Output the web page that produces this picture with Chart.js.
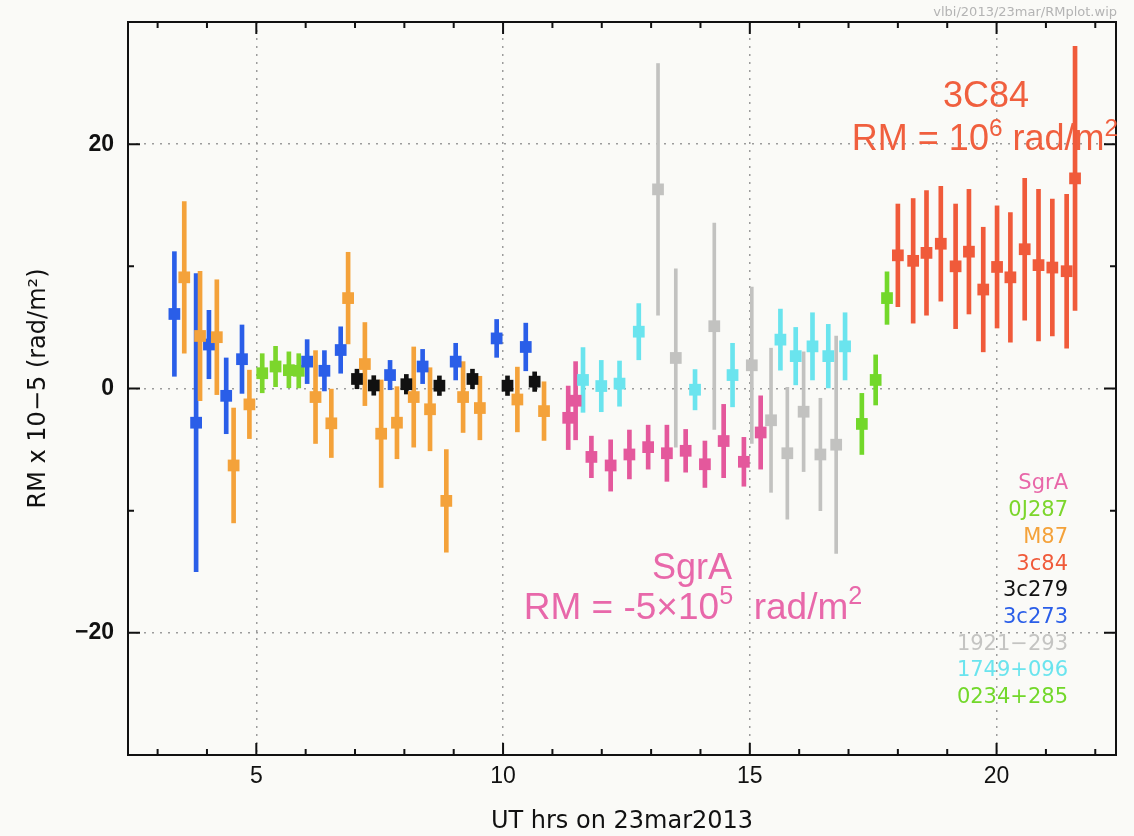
<!DOCTYPE html>
<html><head><meta charset="utf-8">
<script src="https://cdn.jsdelivr.net/npm/chart.js@4/dist/chart.umd.min.js"></script>
<style>html,body{margin:0;padding:0;background:#fafaf7;overflow:hidden}</style>
</head><body>
<canvas id="c" width="1134" height="836"></canvas>
<script>
// ---- tick values ----
const X_TICKS = [3,4,5,6,7,8,9,10,11,12,13,14,15,16,17,18,19,20,21,22];
const X_LABELS = [5,10,15,20];
const Y_LABELS = [-20,0,20];

// ---- series data (hour, RM x 1e-5, error) ----
const sgraX   = [11.32,11.47,11.79,12.18,12.56,12.94,13.32,13.70,14.09,14.47,14.88,15.22];
const sgraY   = [-2.4,-1.0,-5.6,-6.3,-5.4,-4.8,-5.3,-5.1,-6.2,-4.3,-6.0,-3.6];
const sgraE   = [2.6,3.2,1.7,2.1,2.0,1.8,2.3,1.75,1.9,3.0,2.0,3.0];

const oj287X  = [5.12,5.39,5.66,5.86];
const oj287Y  = [1.25,1.8,1.5,1.45];
const oj287E  = [1.6,1.65,1.5,1.4];

const m87X    = [3.54,3.86,4.20,4.54,4.86,6.20,6.52,6.86,7.20,7.53,7.85,8.19,8.52,8.85,9.19,9.53,10.29,10.83];
const m87Y    = [9.1,4.3,4.2,-6.3,-1.3,-0.7,-2.85,7.4,2.0,-3.7,-2.8,-0.7,-1.7,-9.2,-0.7,-1.6,-0.9,-1.85];
const m87E    = [6.2,5.3,4.7,4.7,2.8,3.8,2.8,3.75,3.4,4.4,2.95,4.1,3.4,4.2,2.9,2.6,2.65,2.4];

const c84X    = [18.00,18.31,18.58,18.87,19.17,19.44,19.73,20.01,20.28,20.57,20.85,21.13,21.42,21.59];
const c84Y    = [10.9,10.45,11.1,11.85,10.0,11.2,8.1,9.95,9.1,11.4,10.1,9.9,9.6,17.2];
const c84E    = [4.2,5.1,5.1,4.7,5.1,5.1,5.1,5.0,5.3,5.8,6.2,5.6,6.3,10.8];

const c279X   = [7.04,7.38,8.04,8.71,9.38,10.09,10.64];
const c279Y   = [0.78,0.25,0.35,0.23,0.78,0.23,0.56];
const c279E   = [0.8,0.8,0.8,0.8,0.8,0.8,0.8];

const c273X   = [3.34,3.78,4.04,4.39,4.71,6.03,6.38,6.71,7.71,8.37,9.04,9.87,10.46];
const c273Y   = [6.1,-2.8,3.6,-0.6,2.4,2.2,1.45,3.15,1.1,1.8,2.2,4.1,3.4];
const c273E   = [5.1,12.2,2.8,3.1,2.8,1.8,1.65,1.9,1.2,1.4,1.5,1.55,1.95];

const j1921X  = [13.14,13.50,14.28,15.04,15.43,15.76,16.09,16.43,16.75];
const j1921Y  = [16.3,2.5,5.1,1.9,-2.6,-5.3,-1.9,-5.4,-4.6];
const j1921E  = [10.3,7.3,8.45,6.4,5.9,5.4,4.9,4.6,8.9];

const j1749X  = [11.62,11.99,12.36,12.75,13.89,14.65,15.62,15.93,16.27,16.59,16.93];
const j1749Y  = [0.7,0.2,0.4,4.65,-0.1,1.1,4.0,2.65,3.45,2.65,3.45];
const j1749E  = [2.65,2.1,1.85,2.3,1.65,2.6,2.5,2.35,2.75,2.6,2.75];

const j0234X  = [17.27,17.55,17.78];
const j0234Y  = [-2.9,0.7,7.4];
const j0234E  = [2.5,2.05,2.15];

const LEGEND_NAMES = ['SgrA','0J287','M87','3c84','3c279','3c273','1921\u2212293','1749+096','0234+285'];

// ---- styles ----
const COL = {
  sgra:'#e4589c', oj287:'#7cd62c', m87:'#f4a23a', c84:'#f05a3a', c279:'#111111',
  c273:'#2a5ee8', j1921:'#c2c2c0', j1749:'#6ae4ee', j0234:'#72d82a'
};
const LEGEND_COLS = ['#e866a8','#7cd62c','#f4a23a','#f05a3a','#111111','#2a5ee8','#c4c4c2','#6ae4ee','#72d82a'];

const datasets = [];
function addSeries(name, xs, ys, es, color, barW){
  datasets.push({type:'bar', label:name+' err', order:2, grouped:false,
    data: xs.map((x,i)=>({x:x, y:[ys[i]-es[i], ys[i]+es[i]]})),
    backgroundColor: color, borderWidth:0, barThickness: barW});
  datasets.push({type:'scatter', label:name, order:1,
    data: xs.map((x,i)=>({x:x, y:ys[i]})),
    pointStyle:'rect', pointRadius:8.3, pointHoverRadius:8.3,
    pointBackgroundColor:color, pointBorderColor:color, pointBorderWidth:0});
}
addSeries('1921-293', j1921X, j1921Y, j1921E, COL.j1921, 3);
addSeries('1749+096', j1749X, j1749Y, j1749E, COL.j1749, 4);
addSeries('SgrA', sgraX, sgraY, sgraE, COL.sgra, 4);
addSeries('M87', m87X, m87Y, m87E, COL.m87, 4);
addSeries('3c273', c273X, c273Y, c273E, COL.c273, 4);
addSeries('3c279', c279X, c279Y, c279E, COL.c279, 4);
addSeries('OJ287', oj287X, oj287Y, oj287E, COL.oj287, 4);
addSeries('0234+285', j0234X, j0234Y, j0234E, COL.j0234, 4);
addSeries('3c84', c84X, c84Y, c84E, COL.c84, 4);

function drawRich(ctx, parts, cx, baseline, size, color, family){
  let total = 0;
  parts.forEach(p=>{ ctx.font = (p.sup? size*0.68 : size)+'px '+family; p.w = ctx.measureText(p.t).width; total += p.w; });
  let x = cx - total/2;
  ctx.fillStyle = color; ctx.textAlign='left'; ctx.textBaseline='alphabetic';
  parts.forEach(p=>{ ctx.font = (p.sup? size*0.68 : size)+'px '+family; ctx.fillText(p.t, x, p.sup? baseline - size*0.40 : baseline); x += p.w; });
}

const bgPlugin = { id:'bg', beforeDraw(chart){ const c=chart.ctx; c.save(); c.fillStyle='#fafaf7'; c.fillRect(0,0,chart.width,chart.height); c.restore(); } };

const framePlugin = { id:'frame', afterDraw(chart){
  const ctx = chart.ctx, a = chart.chartArea, xs = chart.scales.x, ys = chart.scales.y;
  ctx.save();
  ctx.strokeStyle = '#111'; ctx.lineWidth = 2;
  ctx.strokeRect(a.left, a.top, a.right-a.left, a.bottom-a.top);
  ctx.beginPath();
  X_TICKS.forEach(v=>{ const px = xs.getPixelForValue(v); const L = (v%5===0)?12:6;
    ctx.moveTo(px, a.bottom); ctx.lineTo(px, a.bottom-L); ctx.moveTo(px, a.top); ctx.lineTo(px, a.top+L); });
  [-20,-10,0,10,20].forEach(v=>{ const py = ys.getPixelForValue(v); const L = (v%20===0)?12:6;
    ctx.moveTo(a.left, py); ctx.lineTo(a.left+L, py); ctx.moveTo(a.right, py); ctx.lineTo(a.right-L, py); });
  ctx.stroke();

  // header path
  ctx.font = '13px "DejaVu Sans"'; ctx.fillStyle = '#b4b4b4'; ctx.textAlign='right'; ctx.textBaseline='alphabetic';
  ctx.fillText('vlbi/2013/23mar/RMplot.wip', 1117, 16);

  // legend
  ctx.font = '21px "DejaVu Sans"'; ctx.textAlign='right'; ctx.textBaseline='middle';
  LEGEND_NAMES.forEach((n,i)=>{ ctx.fillStyle = LEGEND_COLS[i]; ctx.fillText(n, 1068, 484 + i*26.7); });

  // annotations
  const fam = '"Liberation Sans", Arial, sans-serif';
  drawRich(ctx, [{t:'3C84'}], 986, 107, 36, '#f05f3e', fam);
  drawRich(ctx, [{t:'RM = 10'},{t:'6',sup:true},{t:' rad/m'},{t:'2',sup:true}], 985, 150, 36, '#f05f3e', fam);
  drawRich(ctx, [{t:'SgrA'}], 692, 579, 36, '#e868aa', fam);
  drawRich(ctx, [{t:'RM = -5\u00d710'},{t:'5',sup:true},{t:'  rad/m'},{t:'2',sup:true}], 693, 619, 37, '#e868aa', fam);
  ctx.restore();
}};

new Chart(document.getElementById('c'), {
  type:'scatter',
  data:{ datasets },
  options:{
    responsive:false, animation:false, devicePixelRatio:1,
    layout:{ padding:{ top:22, right:18, left:0, bottom:0 } },
    plugins:{ legend:{display:false}, tooltip:{enabled:false} },
    scales:{
      x:{ type:'linear', min:2.4, max:22.42, offset:false,
        afterBuildTicks: s => { s.ticks = X_TICKS.map(v=>({value:v})); },
        afterFit: s => { s.height = 81; },
        grid:{ offset:false, drawTicks:false, lineWidth:1.5,
          color: c => (c.tick && X_LABELS.includes(c.tick.value)) ? '#9c9c9c' : 'rgba(0,0,0,0)' },
        border:{ display:false, dash:[2,6] },
        ticks:{ autoSkip:false, maxRotation:0, padding:8, color:'#111',
          font:{ family:'"Liberation Sans"', size:23 },
          callback: v => X_LABELS.includes(v) ? String(v) : '' },
        title:{ display:true, text:'UT hrs on 23mar2013', color:'#111',
          font:{ family:'DejaVu Sans', size:24 }, padding:{ top:0, bottom:0 } }
      },
      y:{ type:'linear', min:-30, max:30,
        afterBuildTicks: s => { s.ticks = [-30,-20,-10,0,10,20,30].map(v=>({value:v})); },
        afterFit: s => { s.width = 128; },
        grid:{ drawTicks:false, lineWidth:1.5,
          color: c => (c.tick && Y_LABELS.includes(c.tick.value)) ? '#9c9c9c' : 'rgba(0,0,0,0)' },
        border:{ display:false, dash:[2,6] },
        ticks:{ padding:14, color:'#111', font:{ family:'"Liberation Sans"', size:23, weight:'bold', lineHeight:0.5 },
          callback: v => Y_LABELS.includes(v) ? (v<0 ? '\u2212'+Math.abs(v) : String(v)) : '' },
        title:{ display:true, text:'RM x 10\u22125 (rad/m\u00b2)', color:'#111',
          font:{ family:'DejaVu Sans', size:24 }, padding:{ top:24, bottom:0 } }
      }
    }
  },
  plugins:[bgPlugin, framePlugin]
});
</script>
</body></html>
